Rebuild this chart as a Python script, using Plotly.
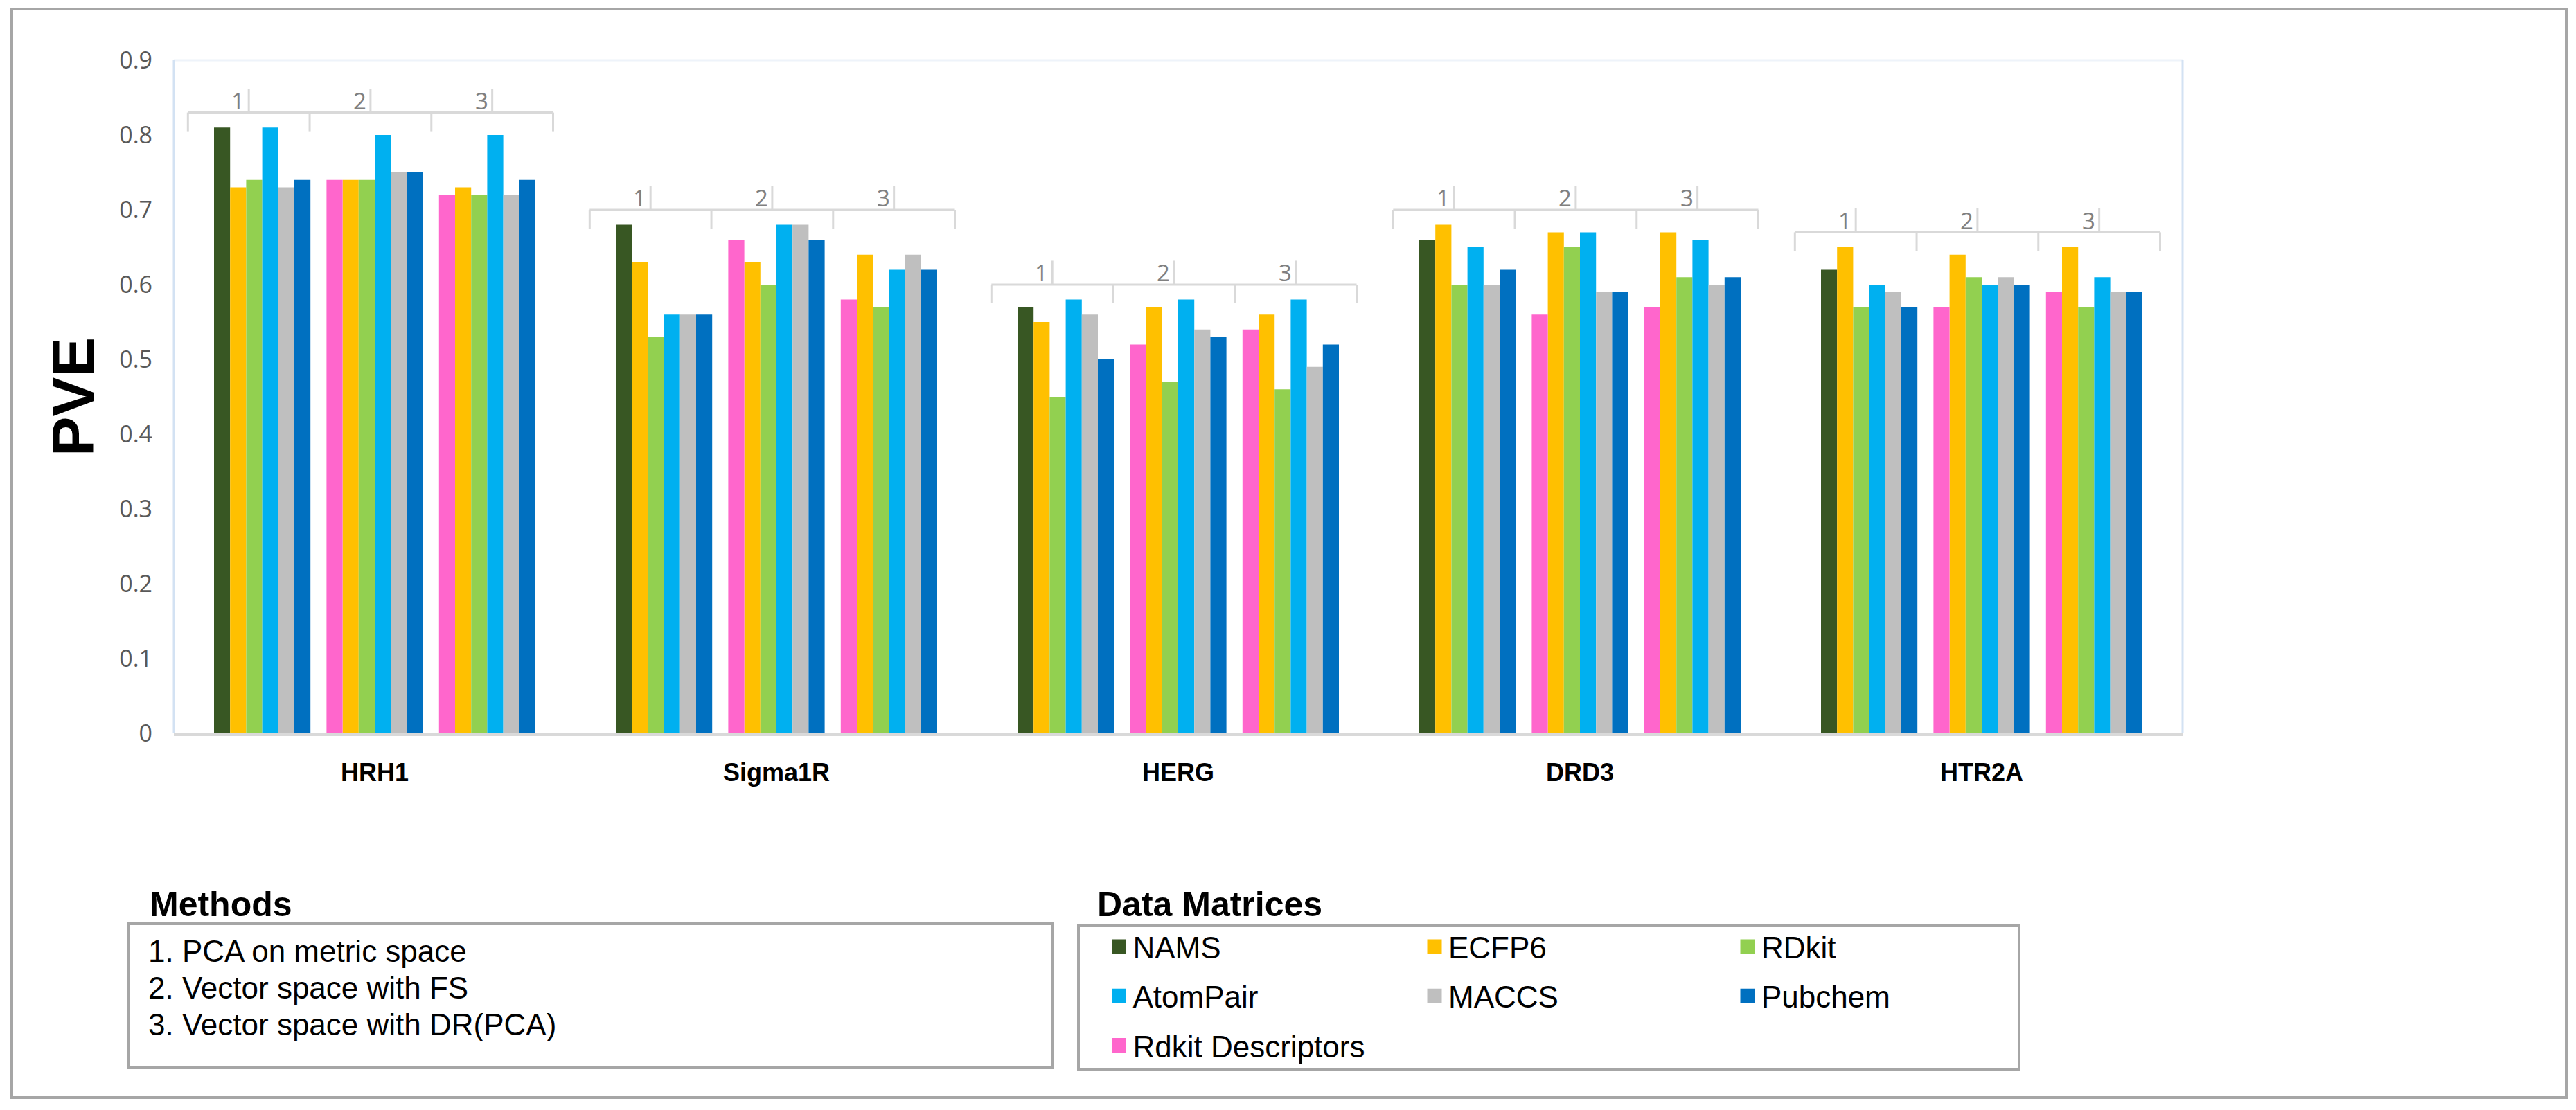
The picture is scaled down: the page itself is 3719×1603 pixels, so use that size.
import plotly.graph_objects as go

# ---------------- data ----------------
targets = ["HRH1", "Sigma1R", "HERG", "DRD3", "HTR2A"]
method_ids = ["1", "2", "3"]
method_names = ["1. PCA on metric space",
                "2. Vector space with FS",
                "3. Vector space with DR(PCA)"]

series_names = ["NAMS", "ECFP6", "RDkit", "AtomPair", "MACCS", "Pubchem", "Rdkit Descriptors"]

# values per target, [method 1, method 2, method 3]; None = not computed
NAMS = [[0.81, None, None], [0.68, None, None], [0.57, None, None],
        [0.66, None, None], [0.62, None, None]]
ECFP6 = [[0.73, 0.74, 0.73], [0.63, 0.63, 0.64], [0.55, 0.57, 0.56],
         [0.68, 0.67, 0.67], [0.65, 0.64, 0.65]]
RDKIT = [[0.74, 0.74, 0.72], [0.53, 0.60, 0.57], [0.45, 0.47, 0.46],
         [0.60, 0.65, 0.61], [0.57, 0.61, 0.57]]
ATOMPAIR = [[0.81, 0.80, 0.80], [0.56, 0.68, 0.62], [0.58, 0.58, 0.58],
            [0.65, 0.67, 0.66], [0.60, 0.60, 0.61]]
MACCS = [[0.73, 0.75, 0.72], [0.56, 0.68, 0.64], [0.56, 0.54, 0.49],
         [0.60, 0.59, 0.60], [0.59, 0.61, 0.59]]
PUBCHEM = [[0.74, 0.75, 0.74], [0.56, 0.66, 0.62], [0.50, 0.53, 0.52],
           [0.62, 0.59, 0.61], [0.57, 0.60, 0.59]]
RDKIT_DESC = [[None, 0.74, 0.72], [None, 0.66, 0.58], [None, 0.52, 0.54],
              [None, 0.56, 0.57], [None, 0.57, 0.59]]

series_values = {"NAMS": NAMS, "ECFP6": ECFP6, "RDkit": RDKIT, "AtomPair": ATOMPAIR,
                 "MACCS": MACCS, "Pubchem": PUBCHEM, "Rdkit Descriptors": RDKIT_DESC}

# ---------------- style ----------------
colors = {"NAMS": "#385723", "ECFP6": "#FFC000", "RDkit": "#92D050", "AtomPair": "#00B0F0",
          "MACCS": "#BFBFBF", "Pubchem": "#0070C0", "Rdkit Descriptors": "#FF66CC"}
slot = {"NAMS": 0, "Rdkit Descriptors": 0, "ECFP6": 1, "RDkit": 2,
        "AtomPair": 3, "MACCS": 4, "Pubchem": 5}
legend_cols = [["NAMS", "AtomPair", "Rdkit Descriptors"], ["ECFP6", "MACCS"], ["RDkit", "Pubchem"]]

W, H = 3719, 1603
ML, MR, MT, MB = 251, 568, 87, 544
GW = W - ML - MR
GH = H - MT - MB


def xp(px):
    return (px - ML) / GW


def yp(py):
    return (H - MB - py) / GH


BW = 0.04          # bar width in category units
SLOTS = 6
UNITS = 3 * SLOTS + 2   # bars + gaps between method groups

font_main = "Liberation Sans, Arial, sans-serif"
font_axis = "Open Sans, Liberation Sans, sans-serif"

fig = go.Figure()


def bar_x(c, m, s):
    return c + (m * (SLOTS + 1) + s + 0.5 - UNITS / 2) * BW


for name in series_names:
    xs, ys = [], []
    for c, per_t in enumerate(series_values[name]):
        for m, v in enumerate(per_t):
            if v is not None:
                xs.append(bar_x(c, m, slot[name]))
                ys.append(v)
    fig.add_trace(go.Bar(x=xs, y=ys, width=BW, name=name, showlegend=False,
                         marker=dict(color=colors[name], line=dict(width=0)),
                         hovertemplate=name + ": %{y}<extra></extra>"))

# legend entries (three columns -> three legends)
legend_ids = ["legend", "legend2", "legend3"]
for lid, col in zip(legend_ids, legend_cols):
    for name in col:
        fig.add_trace(go.Scatter(x=[None], y=[None], mode="markers", name=name,
                                 legend=lid, legendgroup=name, showlegend=True,
                                 marker=dict(symbol="square", size=16, color=colors[name],
                                             line=dict(color=colors[name], width=5))))

# ---------------- method brackets ----------------
BR_START = -0.465
BR_W = 0.303
BR_UP = 0.02
BR_TICK = 0.025
LBL_BAR = 0.032
shapes = []
annotations = []
bracket_color = "#D9D9D9"
for c, t in enumerate(targets):
    vals = [v for name in series_names for v in series_values[name][c] if v is not None]
    top = max(vals) + BR_UP
    x0 = c + BR_START
    shapes.append(dict(type="line", xref="x", yref="y", x0=x0, x1=x0 + 3 * BR_W, y0=top, y1=top,
                       line=dict(color=bracket_color, width=3)))
    for k in range(4):
        xx = x0 + k * BR_W
        shapes.append(dict(type="line", xref="x", yref="y", x0=xx, x1=xx, y0=top - BR_TICK, y1=top,
                           line=dict(color=bracket_color, width=3)))
    for m, mid in enumerate(method_ids):
        xc = x0 + (m + 0.5) * BR_W
        shapes.append(dict(type="line", xref="x", yref="y", x0=xc, x1=xc, y0=top, y1=top + LBL_BAR,
                           line=dict(color=bracket_color, width=3)))
        annotations.append(dict(xref="x", yref="y", x=xc, y=top + 0.016, text=mid, showarrow=False,
                                xanchor="right", yanchor="middle", xshift=-4,
                                font=dict(family=font_axis, size=33, color="#808080")))

# plot-area frame (faint top, light-blue sides)
shapes.append(dict(type="line", xref="paper", yref="paper", x0=0, x1=1, y0=1, y1=1, layer="below",
                   line=dict(color="#EEF3FA", width=3)))
for xx in (0, 1):
    shapes.append(dict(type="line", xref="paper", yref="paper", x0=xx, x1=xx, y0=0, y1=1,
                       layer="below", line=dict(color="#D3E2F3", width=3)))
# outer border
shapes.append(dict(type="rect", xref="paper", yref="paper", x0=xp(17), x1=xp(3705), y0=yp(1585),
                   y1=yp(13), line=dict(color="#A6A6A6", width=4)))
# methods box
shapes.append(dict(type="rect", xref="paper", yref="paper", x0=xp(186), x1=xp(1520), y0=yp(1542),
                   y1=yp(1334), line=dict(color="#A6A6A6", width=4)))
# data matrices box
shapes.append(dict(type="rect", xref="paper", yref="paper", x0=xp(1557), x1=xp(2915), y0=yp(1544),
                   y1=yp(1336), line=dict(color="#A6A6A6", width=4)))

annotations += [
    dict(xref="paper", yref="paper", x=xp(105), y=0.5, text="<b>PVE</b>", textangle=-90,
         showarrow=False, xanchor="center", yanchor="middle",
         font=dict(family=font_main, size=86, color="#000000")),
    dict(xref="paper", yref="paper", x=xp(214), y=yp(1306), text="<b>Methods</b>", showarrow=False,
         xanchor="left", yanchor="middle", font=dict(family=font_main, size=50, color="#000000")),
    dict(xref="paper", yref="paper", x=xp(1582), y=yp(1306), text="<b>Data Matrices</b>",
         showarrow=False, xanchor="left", yanchor="middle",
         font=dict(family=font_main, size=50, color="#000000")),
]
METHOD_LINE0 = 1373
METHOD_LINE_STEP = 53
for i, txt in enumerate(method_names):
    annotations.append(dict(xref="paper", yref="paper", x=xp(212),
                            y=yp(METHOD_LINE0 + i * METHOD_LINE_STEP), text=txt,
                            showarrow=False, xanchor="left", yanchor="middle", align="left",
                            font=dict(family=font_main, size=44, color="#000000")))

legend_common = dict(yanchor="top", xanchor="left", orientation="v", bgcolor="rgba(0,0,0,0)",
                     borderwidth=0, traceorder="grouped", tracegroupgap=11,
                     font=dict(family=font_main, size=44, color="#000000"), y=yp(1332))
swatch_centers = [1615.5, 2071, 2523]

fig.update_layout(
    width=W, height=H,
    margin=dict(l=ML, r=MR, t=MT, b=MB, pad=0),
    paper_bgcolor="white", plot_bgcolor="white",
    barmode="overlay",
    xaxis=dict(range=[-0.5, len(targets) - 0.5], tickvals=list(range(len(targets))), ticktext=targets,
               showgrid=False, zeroline=False, showline=True, linecolor="#D9D9D9", linewidth=4,
               ticks="", ticklabelstandoff=22,
               tickfont=dict(family=font_main, size=36, color="#000000", weight="bold")),
    yaxis=dict(range=[0, 0.9], tick0=0, dtick=0.1, showgrid=False, zeroline=False, showline=False,
               ticks="", ticklabelstandoff=30,
               tickfont=dict(family=font_axis, size=34, color="#595959")),
    shapes=shapes,
    annotations=annotations,
    legend=dict(legend_common, x=xp(swatch_centers[0] - 20)),
    legend2=dict(legend_common, x=xp(swatch_centers[1] - 20)),
    legend3=dict(legend_common, x=xp(swatch_centers[2] - 20)),
)

fig.write_html("out.html", config={"displayModeBar": False},
               post_script="document.body.style.margin='0';document.body.style.overflow='hidden';")
